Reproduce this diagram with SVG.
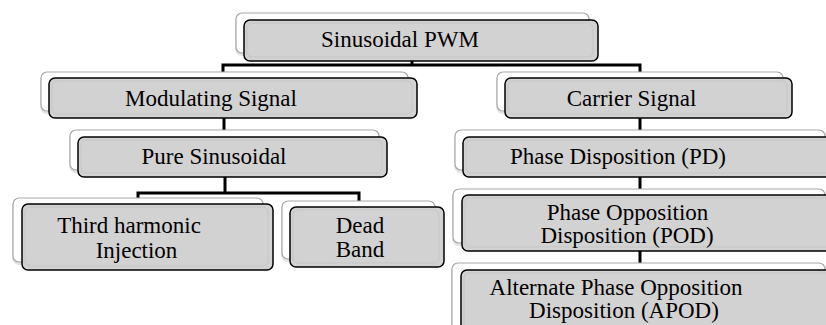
<svg xmlns="http://www.w3.org/2000/svg" width="826" height="325" viewBox="0 0 826 325">
<style>
.shadow{fill:#e4e4e4;stroke:none}
.back{fill:#fff;stroke:#a8a8a8;stroke-width:1.2}
.front{fill:#d2d2d2;stroke:#000;stroke-width:1.5}
.inner{fill:none;stroke:#c6c6c6;stroke-width:1}
.c{fill:none;stroke:#000;stroke-width:3;stroke-linejoin:miter}
</style>
<rect width="826" height="325" fill="#fff"/>
<g id="connectors">
<polyline class="c" points="412,61 412,65"/>
<polyline class="c" points="223,72 223,65 640,65 640,72"/>
<line class="c" x1="224" y1="118" x2="224" y2="137"/>
<polyline class="c" points="225,177 225,193"/>
<polyline class="c" points="138,199 138,193 359,193 359,201"/>
<line class="c" x1="640" y1="118" x2="640" y2="137"/>
<line class="c" x1="640" y1="177" x2="640" y2="195"/>
<line class="c" x1="640" y1="251" x2="640" y2="270"/>
</g>
<g id="n-sinusoidal-pwm">
<rect class="shadow" x="235" y="14" width="356" height="42" rx="7"/>
<rect class="back" x="236" y="13" width="353" height="40" rx="6"/>
<rect class="front" x="244" y="20" width="354" height="41" rx="6"/>
<rect class="inner" x="247" y="23" width="346" height="34" rx="5"/>
<text x="400" y="47" font-family="Liberation Serif, serif" font-size="23" text-anchor="middle" fill="#000">Sinusoidal PWM</text>
</g>
<g id="n-modulating">
<rect class="shadow" x="40" y="73" width="370" height="41" rx="7"/>
<rect class="back" x="41" y="72" width="367" height="39" rx="6"/>
<rect class="front" x="49" y="78" width="368" height="40" rx="6"/>
<rect class="inner" x="52" y="81" width="360" height="33" rx="5"/>
<text x="211" y="106" font-family="Liberation Serif, serif" font-size="23" text-anchor="middle" fill="#000">Modulating Signal</text>
</g>
<g id="n-pure">
<rect class="shadow" x="69" y="131" width="312" height="42" rx="7"/>
<rect class="back" x="70" y="130" width="309" height="40" rx="6"/>
<rect class="front" x="78" y="137" width="309" height="40" rx="6"/>
<rect class="inner" x="81" y="140" width="301" height="33" rx="5"/>
<text x="214" y="164" font-family="Liberation Serif, serif" font-size="23" text-anchor="middle" fill="#000">Pure Sinusoidal</text>
</g>
<g id="n-third">
<rect class="shadow" x="12" y="199" width="253" height="66" rx="7"/>
<rect class="back" x="13" y="198" width="250" height="64" rx="6"/>
<rect class="front" x="22" y="204" width="251" height="66" rx="6"/>
<rect class="inner" x="25" y="207" width="243" height="59" rx="5"/>
<text x="129" y="233" font-family="Liberation Serif, serif" font-size="23" text-anchor="middle" fill="#000">Third harmonic</text>
<text x="136.5" y="258" font-family="Liberation Serif, serif" font-size="23" text-anchor="middle" fill="#000">Injection</text>
</g>
<g id="n-dead">
<rect class="shadow" x="281" y="202" width="156" height="60" rx="7"/>
<rect class="back" x="282" y="201" width="153" height="58" rx="6"/>
<rect class="front" x="290" y="207" width="154" height="60" rx="6"/>
<rect class="inner" x="293" y="210" width="146" height="53" rx="5"/>
<text x="360" y="233" font-family="Liberation Serif, serif" font-size="23" text-anchor="middle" fill="#000">Dead</text>
<text x="360" y="257" font-family="Liberation Serif, serif" font-size="23" text-anchor="middle" fill="#000">Band</text>
</g>
<g id="n-carrier">
<rect class="shadow" x="496" y="73" width="289" height="41" rx="7"/>
<rect class="back" x="497" y="72" width="286" height="39" rx="6"/>
<rect class="front" x="505" y="78" width="287" height="40" rx="6"/>
<rect class="inner" x="508" y="81" width="279" height="33" rx="5"/>
<text x="631.5" y="106" font-family="Liberation Serif, serif" font-size="23" text-anchor="middle" fill="#000">Carrier Signal</text>
</g>
<g id="n-pd">
<rect class="shadow" x="454" y="131" width="373" height="42" rx="7"/>
<rect class="back" x="455" y="130" width="370" height="40" rx="6"/>
<rect class="front" x="463" y="137" width="380" height="40" rx="6"/>
<rect class="inner" x="466" y="140" width="372" height="33" rx="5"/>
<text x="618" y="164" font-family="Liberation Serif, serif" font-size="23" text-anchor="middle" fill="#000">Phase Disposition (PD)</text>
</g>
<g id="n-pod">
<rect class="shadow" x="452" y="190" width="375" height="56" rx="7"/>
<rect class="back" x="453" y="189" width="372" height="54" rx="6"/>
<rect class="front" x="462" y="195" width="380" height="56" rx="6"/>
<rect class="inner" x="465" y="198" width="372" height="49" rx="5"/>
<text x="627.5" y="220" font-family="Liberation Serif, serif" font-size="23" text-anchor="middle" fill="#000">Phase Opposition</text>
<text x="627" y="243" font-family="Liberation Serif, serif" font-size="23" text-anchor="middle" fill="#000">Disposition (POD)</text>
</g>
<g id="n-apod">
<rect class="shadow" x="451" y="264" width="376" height="72" rx="7"/>
<rect class="back" x="452" y="263" width="373" height="70" rx="6"/>
<rect class="front" x="461" y="270" width="380" height="70" rx="6"/>
<rect class="inner" x="464" y="273" width="372" height="63" rx="5"/>
<text x="616" y="295" font-family="Liberation Serif, serif" font-size="23" text-anchor="middle" fill="#000">Alternate Phase Opposition</text>
<text x="624" y="318" font-family="Liberation Serif, serif" font-size="23" text-anchor="middle" fill="#000">Disposition (APOD)</text>
</g>
</svg>
